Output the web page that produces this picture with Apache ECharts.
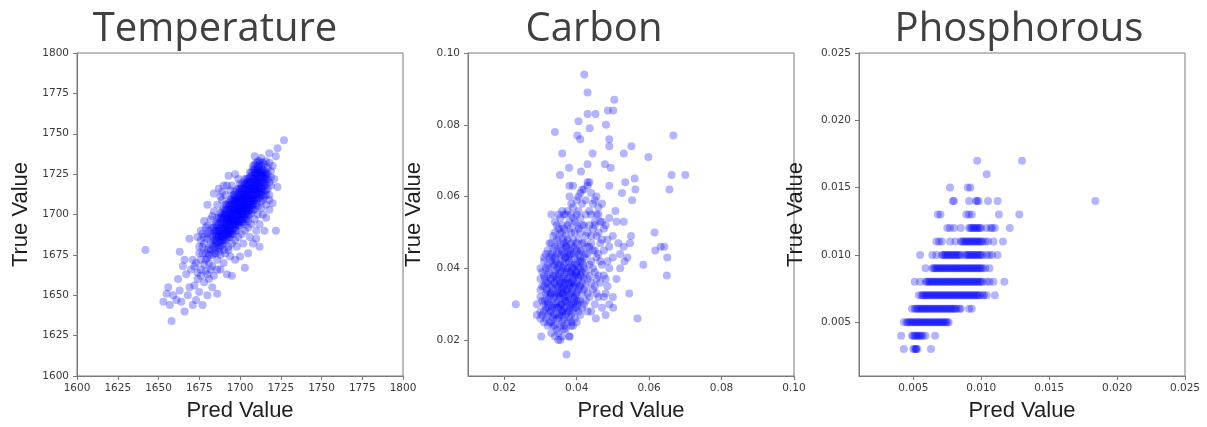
<!DOCTYPE html>
<html>
<head>
<meta charset="utf-8">
<script src="https://cdn.jsdelivr.net/npm/echarts@6/dist/echarts.min.js"></script>
<style>
html,body{margin:0;padding:0;background:#fff;}
#chart{width:1207px;height:427px;}
</style>
</head>
<body>
<div id="chart"></div>
<script>
// ---------------- DATA ----------------
var panelTitles = ['Temperature', 'Carbon', 'Phosphorous'];
var xAxisTitle = 'Pred Value';
var yAxisTitle = 'True Value';

var tempTicks = [1600, 1625, 1650, 1675, 1700, 1725, 1750, 1775, 1800];
var carbonTicks = [0.02, 0.04, 0.06, 0.08, 0.10];
var phosTicks = [0.005, 0.010, 0.015, 0.020, 0.025];

// Temperature: [pred, true]
var tempPoints = [
[1642,1678],[1658,1634],[1655,1651],[1653,1646],[1656,1655],[1657,1644],[1659,1650],[1661,1647],[1664,1646],[1663,1653],
[1666,1640],[1668,1650],[1669,1655],[1671,1644],[1673,1647],[1672,1656],[1675,1652],[1677,1644],[1678,1658],[1680,1650],
[1681,1660],[1683,1655],[1686,1651],[1676,1662],[1667,1663],[1662,1660],[1665,1668],[1663,1677],[1666,1672],[1669,1685],
[1670,1666],[1673,1670],[1674,1664],[1679,1665],[1684,1662],[1674,1686],[1675,1680],[1678,1696],[1680,1706],[1681,1690],
[1684,1713],[1687,1716],[1686,1695],[1689,1709],[1690,1718],[1693,1724],[1697,1725],[1699,1722],[1696,1712],[1700,1716],
[1692,1663],[1695,1662],[1688,1666],[1690,1678],[1693,1680],[1697,1672],[1700,1674],[1703,1667],[1705,1676],[1708,1682],
[1710,1685],[1712,1680],[1715,1690],[1722,1690],[1716,1698],[1718,1703],[1720,1707],[1723,1717],[1721,1722],[1719,1727],
[1722,1736],[1723,1741],[1727,1746],[1713,1735],[1716,1733],[1709,1736],[1720,1730],[1718,1738],
[1680,1678],[1682,1683],[1684,1680],[1685,1687],[1683,1675],[1686,1672],[1688,1683],[1687,1690],[1689,1686],[1690,1692],
[1691,1684],[1692,1689],[1693,1695],[1694,1690],[1695,1698],[1696,1693],[1697,1700],[1698,1696],[1699,1703],[1700,1698],
[1701,1705],[1702,1700],[1703,1707],[1704,1702],[1705,1710],[1706,1705],[1707,1712],[1708,1708],[1709,1715],[1710,1711],
[1711,1718],[1712,1714],[1713,1720],[1714,1716],[1715,1723],[1710,1725],[1708,1728],[1711,1730],[1709,1722],[1706,1720],
[1704,1717],[1702,1713],[1700,1710],[1698,1707],[1696,1704],[1694,1701],[1692,1698],[1690,1700],[1688,1695],[1686,1690],
[1684,1692],[1682,1688],[1680,1685],[1678,1682],[1677,1676],[1679,1672],[1681,1670],[1683,1668],[1685,1676],[1687,1679],
[1689,1681],[1691,1676],[1693,1686],[1695,1688],[1697,1690],[1699,1693],[1701,1695],[1703,1697],[1705,1699],[1707,1701],
[1709,1703],[1711,1705],[1713,1708],[1715,1711],[1716,1715],[1714,1720],[1712,1724],[1716,1726],[1714,1728],[1712,1731],
[1707,1724],[1705,1722],[1703,1719],[1701,1716],[1699,1713],[1697,1709],[1695,1706],[1693,1703],[1691,1700],[1689,1697],
[1687,1694],[1685,1682],[1683,1686],[1681,1679],[1688,1675],[1690,1688],[1692,1693],[1694,1696],[1696,1699],[1698,1702],
[1700,1705],[1702,1708],[1704,1711],[1706,1714],[1708,1717],[1710,1720],[1712,1717],[1714,1712],[1716,1719],[1717,1722],
[1718,1712],[1713,1704],[1711,1700],[1709,1697],[1707,1694],[1705,1692],[1703,1690],[1701,1688],[1699,1686],[1697,1684],
[1695,1682],[1693,1678],[1706,1708],[1704,1706],[1702,1704],[1700,1702],[1698,1699],[1696,1697],[1694,1694],[1692,1691],
[1690,1686],[1708,1712],[1710,1716],[1712,1721],[1709,1726],[1707,1716],[1705,1714],[1703,1712],[1701,1710],[1699,1707],
[1697,1704],[1695,1701],[1693,1698],[1691,1695],[1689,1691],[1687,1686],[1685,1684],[1683,1681],[1686,1698],[1688,1701],
[1691,1706],[1694,1709],[1697,1714],[1700,1719],[1703,1722],[1706,1726],[1709,1731],[1711,1733],[1713,1727],[1715,1731],
[1717,1729],[1684,1702],[1682,1697],[1679,1692],[1686,1706],[1688,1711],[1691,1712],[1694,1715],[1712,1694],[1714,1700],
[1716,1706],[1718,1709],[1710,1690],[1706,1686],[1702,1682],[1698,1680],[1694,1674],[1690,1670],[1686,1666],
[1684,1676],[1684,1684],[1684,1690],[1685,1679],[1685,1688],[1685,1694],[1686,1681],[1686,1686],[1686,1693],
[1687,1677],[1687,1683],[1687,1690],[1687,1698],[1688,1680],[1688,1688],[1688,1692],[1688,1698],
[1689,1684],[1689,1690],[1689,1694],[1689,1702],[1690,1682],[1690,1690],[1690,1696],[1690,1704],
[1691,1688],[1691,1693],[1691,1698],[1691,1703],[1692,1685],[1692,1690],[1692,1695],[1692,1700],[1692,1706],
[1693,1688],[1693,1692],[1693,1696],[1693,1701],[1693,1707],[1694,1686],[1694,1692],[1694,1698],[1694,1703],[1694,1708],
[1695,1690],[1695,1695],[1695,1700],[1695,1704],[1695,1710],[1696,1688],[1696,1694],[1696,1701],[1696,1707],[1696,1712],
[1697,1692],[1697,1697],[1697,1702],[1697,1708],[1697,1711],[1698,1690],[1698,1694],[1698,1700],[1698,1705],[1698,1710],[1698,1715],
[1699,1696],[1699,1700],[1699,1704],[1699,1709],[1699,1716],[1700,1693],[1700,1700],[1700,1707],[1700,1712],[1700,1714],
[1701,1697],[1701,1702],[1701,1706],[1701,1712],[1701,1718],[1702,1695],[1702,1702],[1702,1706],[1702,1710],[1702,1716],[1702,1720],
[1703,1700],[1703,1704],[1703,1709],[1703,1714],[1703,1716],[1704,1697],[1704,1704],[1704,1708],[1704,1713],[1704,1719],[1704,1722],
[1705,1702],[1705,1706],[1705,1712],[1705,1716],[1705,1720],[1706,1700],[1706,1710],[1706,1716],[1706,1718],[1706,1723],
[1707,1704],[1707,1708],[1707,1714],[1707,1720],[1707,1726],[1708,1703],[1708,1710],[1708,1714],[1708,1720],[1708,1724],[1708,1730],
[1709,1707],[1709,1712],[1709,1718],[1709,1720],[1709,1728],[1710,1706],[1710,1714],[1710,1718],[1710,1723],[1710,1728],[1710,1732],
[1711,1710],[1711,1715],[1711,1722],[1711,1726],[1712,1710],[1712,1719],[1712,1726],[1712,1728],[1712,1733],
[1713,1712],[1713,1716],[1713,1723],[1713,1730],[1714,1709],[1714,1718],[1714,1724],[1714,1732],
[1715,1715],[1715,1720],[1715,1727],[1716,1712],[1716,1722],[1716,1724],[1717,1716],[1717,1725],[1718,1720],[1718,1732],
[1719,1718],[1719,1723],[1680,1693],[1677,1688],[1676,1684],[1683,1699],[1689,1714],[1692,1718],[1695,1718],
[1689,1687],[1689,1699],[1690,1694],[1690,1698],[1691,1691],[1691,1701],[1692,1697],[1692,1703],[1693,1690],[1693,1705],
[1694,1699],[1694,1706],[1695,1693],[1695,1697],[1695,1703],[1696,1696],[1696,1703],[1696,1709],[1697,1695],[1697,1706],
[1698,1697],[1698,1703],[1698,1708],[1699,1698],[1699,1702],[1699,1711],[1700,1696],[1700,1704],[1700,1709],[1701,1700],
[1701,1708],[1701,1714],[1702,1698],[1702,1711],[1703,1702],[1703,1706],[1703,1711],[1703,1718],[1704,1700],[1704,1709],
[1704,1715],[1705,1704],[1705,1708],[1705,1718],[1706,1703],[1706,1712],[1706,1721],[1707,1706],[1707,1710],[1707,1718],
[1708,1706],[1708,1716],[1708,1722],[1709,1710],[1709,1716],[1709,1724],[1710,1709],[1710,1721],[1710,1726],[1711,1713],
[1711,1720],[1711,1728],[1712,1716],[1712,1723],[1713,1714],[1713,1725],[1714,1722],[1714,1726],[1715,1718],[1715,1725],
[1687,1688],[1686,1684],[1685,1690],[1688,1686],[1690,1684],[1692,1687],[1694,1688],[1696,1691],[1697,1694],[1699,1695],
[1701,1699],[1702,1703],[1704,1704],[1706,1707],[1708,1709],[1710,1712],[1712,1713],[1705,1696],[1703,1694],
[1676,1672],[1678,1669],[1679,1676],[1680,1673],[1681,1675],[1682,1678],[1677,1680],[1675,1676],[1672,1668],[1674,1660],
[1676,1666],[1680,1663],[1682,1666],[1671,1672],[1678,1686],[1680,1688],[1676,1690],[1683,1692]
];

// Carbon: [pred, true]
var carbonPoints = [
[0.031,0.030],[0.032,0.033],[0.033,0.028],[0.034,0.036],[0.035,0.031],[0.036,0.039],[0.037,0.034],[0.038,0.042],[0.039,0.037],[0.040,0.045],
[0.041,0.040],[0.032,0.038],[0.033,0.042],[0.034,0.029],[0.035,0.044],[0.036,0.027],[0.037,0.046],[0.038,0.030],[0.039,0.048],[0.040,0.033],
[0.031,0.035],[0.032,0.027],[0.033,0.037],[0.034,0.041],[0.035,0.035],[0.036,0.033],[0.037,0.040],[0.038,0.036],[0.039,0.032],[0.040,0.038],
[0.041,0.043],[0.030,0.028],[0.030,0.032],[0.030,0.026],[0.031,0.025],[0.032,0.024],[0.033,0.025],[0.034,0.024],[0.035,0.026],[0.036,0.025],
[0.037,0.027],[0.038,0.026],[0.039,0.028],[0.040,0.029],[0.041,0.031],[0.042,0.034],[0.043,0.037],[0.042,0.040],[0.043,0.044],[0.042,0.047],
[0.041,0.050],[0.040,0.052],[0.039,0.054],[0.038,0.051],[0.037,0.049],[0.036,0.052],[0.035,0.048],[0.034,0.046],[0.033,0.047],[0.034,0.050],
[0.036,0.045],[0.035,0.040],[0.034,0.033],[0.033,0.031],[0.032,0.029],[0.036,0.030],[0.037,0.031],[0.038,0.033],[0.039,0.035],[0.040,0.036],
[0.036,0.036],[0.037,0.037],[0.038,0.039],[0.039,0.040],[0.040,0.041],[0.036,0.042],[0.037,0.043],[0.035,0.038],[0.034,0.039],[0.033,0.035],
[0.032,0.036],[0.031,0.038],[0.030,0.037],[0.029,0.030],[0.029,0.027],[0.030,0.034],[0.031,0.042],[0.032,0.041],[0.033,0.044],[0.035,0.029],
[0.034,0.027],[0.036,0.028],[0.038,0.028],[0.039,0.030],[0.040,0.031],[0.041,0.035],[0.042,0.037],[0.041,0.038],[0.038,0.044],[0.039,0.046],
[0.040,0.047],[0.041,0.045],[0.037,0.047],[0.036,0.050],[0.038,0.053],[0.037,0.055],[0.036,0.056],[0.035,0.055],[0.039,0.057],[0.040,0.055],
[0.041,0.054],[0.042,0.052],[0.043,0.050],[0.044,0.047],[0.045,0.045],[0.044,0.042],[0.045,0.039],[0.044,0.036],[0.043,0.033],[0.042,0.030],
[0.043,0.028],[0.041,0.027],[0.040,0.025],[0.039,0.024],[0.037,0.023],[0.035,0.022],[0.034,0.021],[0.036,0.021],[0.033,0.022],[0.038,0.021],
[0.031,0.028],[0.032,0.031],[0.033,0.033],[0.035,0.033],[0.036,0.034],[0.037,0.032],[0.038,0.035],[0.039,0.038],[0.040,0.039],[0.041,0.042],
[0.042,0.043],[0.043,0.046],[0.044,0.049],[0.045,0.052],[0.046,0.055],[0.047,0.053],[0.046,0.050],[0.047,0.048],[0.046,0.044],[0.047,0.041],
[0.046,0.038],[0.045,0.035],[0.046,0.032],[0.045,0.030],[0.044,0.028],[0.047,0.029],[0.048,0.033],[0.048,0.037],[0.049,0.040],[0.050,0.043],
[0.049,0.046],[0.050,0.049],[0.048,0.052],[0.049,0.054],[0.047,0.058],[0.045,0.059],[0.044,0.061],[0.043,0.063],[0.042,0.062],[0.041,0.061],
[0.043,0.064],[0.040,0.059],[0.038,0.060],[0.039,0.063],[0.046,0.057],[0.045,0.053],[0.044,0.055],[0.035,0.051],[0.034,0.053],[0.033,0.055],
[0.034,0.043],[0.032,0.045],[0.031,0.043],[0.030,0.040],
[0.0305,0.027],[0.0305,0.031],[0.0305,0.035],[0.0305,0.039],
[0.0315,0.026],[0.0315,0.029],[0.0315,0.033],[0.0315,0.036],[0.0315,0.040],[0.0315,0.044],
[0.0325,0.025],[0.0325,0.028],[0.0325,0.032],[0.0325,0.035],[0.0325,0.039],[0.0325,0.043],[0.0325,0.047],
[0.0335,0.024],[0.0335,0.027],[0.0335,0.030],[0.0335,0.034],[0.0335,0.038],[0.0335,0.041],[0.0335,0.045],[0.0335,0.049],
[0.0345,0.026],[0.0345,0.029],[0.0345,0.032],[0.0345,0.035],[0.0345,0.037],[0.0345,0.040],[0.0345,0.044],[0.0345,0.048],[0.0345,0.052],
[0.0355,0.024],[0.0355,0.028],[0.0355,0.030],[0.0355,0.033],[0.0355,0.036],[0.0355,0.039],[0.0355,0.042],[0.0355,0.046],[0.0355,0.050],[0.0355,0.054],
[0.0365,0.023],[0.0365,0.026],[0.0365,0.029],[0.0365,0.032],[0.0365,0.035],[0.0365,0.038],[0.0365,0.041],[0.0365,0.044],[0.0365,0.047],[0.0365,0.051],[0.0365,0.055],
[0.0375,0.025],[0.0375,0.028],[0.0375,0.031],[0.0375,0.034],[0.0375,0.037],[0.0375,0.040],[0.0375,0.043],[0.0375,0.045],[0.0375,0.048],[0.0375,0.052],[0.0375,0.056],
[0.0385,0.024],[0.0385,0.027],[0.0385,0.030],[0.0385,0.033],[0.0385,0.036],[0.0385,0.039],[0.0385,0.041],[0.0385,0.044],[0.0385,0.047],[0.0385,0.050],[0.0385,0.055],[0.0385,0.058],
[0.0395,0.026],[0.0395,0.029],[0.0395,0.032],[0.0395,0.035],[0.0395,0.038],[0.0395,0.041],[0.0395,0.043],[0.0395,0.046],[0.0395,0.050],[0.0395,0.053],
[0.0405,0.028],[0.0405,0.031],[0.0405,0.034],[0.0405,0.037],[0.0405,0.040],[0.0405,0.044],[0.0405,0.048],[0.0405,0.051],[0.0405,0.056],[0.0405,0.060],
[0.0415,0.029],[0.0415,0.033],[0.0415,0.036],[0.0415,0.039],[0.0415,0.042],[0.0415,0.047],[0.0415,0.052],[0.0415,0.058],[0.0415,0.062],
[0.0425,0.031],[0.0425,0.035],[0.0425,0.039],[0.0425,0.044],[0.0425,0.049],[0.0425,0.055],[0.0425,0.059],
[0.0435,0.032],[0.0435,0.038],[0.0435,0.041],[0.0435,0.046],[0.0435,0.052],[0.0435,0.056],[0.0435,0.064],
[0.0445,0.034],[0.0445,0.040],[0.0445,0.045],[0.0445,0.051],[0.0445,0.058],
[0.0455,0.033],[0.0455,0.037],[0.0455,0.043],[0.0455,0.049],[0.0455,0.055],[0.0455,0.060],
[0.0465,0.036],[0.0465,0.042],[0.0465,0.047],[0.0465,0.053],[0.0475,0.032],[0.0475,0.038],[0.0475,0.045],[0.0475,0.051],
[0.0485,0.035],[0.0485,0.042],[0.0485,0.048],
[0.0312,0.031],[0.0312,0.037],[0.0318,0.034],[0.0322,0.030],[0.0322,0.040],[0.0328,0.033],[0.0328,0.037],[0.0332,0.029],[0.0332,0.043],[0.0338,0.032],
[0.0338,0.036],[0.0342,0.030],[0.0342,0.038],[0.0342,0.042],[0.0348,0.034],[0.0348,0.046],[0.0352,0.027],[0.0352,0.032],[0.0352,0.037],[0.0352,0.041],
[0.0358,0.030],[0.0358,0.035],[0.0358,0.044],[0.0362,0.028],[0.0362,0.033],[0.0362,0.037],[0.0362,0.040],[0.0362,0.048],[0.0368,0.031],[0.0368,0.036],
[0.0368,0.043],[0.0372,0.029],[0.0372,0.034],[0.0372,0.039],[0.0372,0.046],[0.0378,0.032],[0.0378,0.036],[0.0378,0.042],[0.0382,0.029],[0.0382,0.038],
[0.0382,0.045],[0.0388,0.034],[0.0388,0.040],[0.0392,0.031],[0.0392,0.036],[0.0392,0.044],[0.0398,0.033],[0.0398,0.039],[0.0402,0.030],[0.0402,0.042],
[0.0408,0.035],[0.0412,0.038],[0.0412,0.045],[0.0418,0.041],[0.0335,0.026],[0.0345,0.023],[0.0365,0.024],[0.0385,0.025],
[0.051,0.037],[0.052,0.040],[0.050,0.032],[0.049,0.030],[0.0515,0.047],[0.052,0.044],[0.048,0.027],[0.051,0.053],[0.053,0.046],[0.055,0.049],
[0.0232,0.030],[0.0372,0.016],[0.0302,0.021],[0.0349,0.020],[0.0355,0.020],[0.0380,0.021],[0.0568,0.026],[0.0453,0.026],[0.0501,0.029],[0.0545,0.033],
[0.0649,0.038],[0.0650,0.043],[0.0584,0.041],[0.0617,0.045],[0.0632,0.046],[0.0642,0.046],[0.0615,0.050],[0.0547,0.047],[0.0532,0.042],[0.0540,0.043],
[0.0507,0.056],[0.0530,0.053],[0.0421,0.094],[0.0430,0.089],[0.0504,0.087],[0.0430,0.083],[0.0452,0.083],[0.0486,0.084],[0.0501,0.084],[0.0405,0.081],
[0.0436,0.079],[0.0481,0.080],[0.0340,0.078],[0.0402,0.077],[0.0410,0.076],[0.0490,0.076],[0.0490,0.074],[0.0667,0.077],[0.0551,0.074],[0.0360,0.072],
[0.0444,0.072],[0.0530,0.072],[0.0598,0.071],[0.0379,0.068],[0.0430,0.069],[0.0478,0.069],[0.0494,0.068],[0.0354,0.066],[0.0412,0.067],[0.0662,0.066],
[0.0700,0.066],[0.0560,0.065],[0.0534,0.064],[0.0490,0.063],[0.0656,0.062],[0.0380,0.063],[0.0562,0.062],[0.0525,0.061],[0.0553,0.059]
];

// Phosphorous: true value levels with the predicted values found on each level
var phosLevels = [0.017, 0.016, 0.015, 0.014, 0.013, 0.012, 0.011, 0.010, 0.009, 0.008, 0.007, 0.006, 0.005, 0.004, 0.003];
var phosPredByLevel = [
[0.0097, 0.0130],
[0.0104],
[0.0077, 0.0090, 0.0092],
[0.0079, 0.0080, 0.0091, 0.0096, 0.0097, 0.0098, 0.0105, 0.0112, 0.0184],
[0.0068, 0.0070, 0.0089, 0.0091, 0.0093, 0.0113, 0.0128],
[0.0075, 0.0077, 0.0080, 0.0085, 0.0091, 0.0092, 0.0093, 0.0094, 0.0095, 0.0096, 0.0097, 0.0098, 0.0099, 0.0100, 0.0104, 0.0107, 0.0108, 0.0110, 0.0121],
[0.0067, 0.0069, 0.0071, 0.0077, 0.0081, 0.0085, 0.0086, 0.0087, 0.0088, 0.0089, 0.0090, 0.0091, 0.0092, 0.0093, 0.0094, 0.0095, 0.0096, 0.0097, 0.0098, 0.0099, 0.0100, 0.0101, 0.0103, 0.0105, 0.0109, 0.0116],
[0.0055, 0.0064, 0.0067, 0.0071, 0.0072, 0.0073, 0.0074, 0.0075, 0.0076, 0.0077, 0.0078, 0.0079, 0.0080, 0.0081, 0.0082, 0.0083, 0.0084, 0.0085, 0.0088, 0.0089, 0.0090, 0.0091, 0.0092, 0.0093, 0.0094, 0.0095, 0.0096, 0.0097, 0.0098, 0.0099, 0.0100, 0.0101, 0.0104, 0.0106, 0.0108, 0.0112],
[0.0059, 0.0064, 0.0065, 0.0066, 0.0067, 0.0068, 0.0069, 0.0070, 0.0071, 0.0072, 0.0073, 0.0074, 0.0075, 0.0076, 0.0077, 0.0078, 0.0079, 0.0080, 0.0081, 0.0082, 0.0083, 0.0084, 0.0085, 0.0086, 0.0087, 0.0088, 0.0089, 0.0090, 0.0091, 0.0092, 0.0093, 0.0094, 0.0095, 0.0096, 0.0097, 0.0098, 0.0099, 0.0100, 0.0101, 0.0103, 0.0106],
[0.0051, 0.0055, 0.0059, 0.0060, 0.0061, 0.0062, 0.0063, 0.0064, 0.0065, 0.0066, 0.0067, 0.0068, 0.0069, 0.0070, 0.0071, 0.0072, 0.0073, 0.0074, 0.0075, 0.0076, 0.0077, 0.0078, 0.0079, 0.0080, 0.0081, 0.0082, 0.0083, 0.0084, 0.0085, 0.0086, 0.0087, 0.0088, 0.0089, 0.0090, 0.0091, 0.0092, 0.0093, 0.0094, 0.0095, 0.0096, 0.0097, 0.0098, 0.0099, 0.0100, 0.0101, 0.0104, 0.0106, 0.0109, 0.0117],
[0.0054, 0.0056, 0.0057, 0.0058, 0.0059, 0.0060, 0.0061, 0.0062, 0.0063, 0.0064, 0.0065, 0.0066, 0.0067, 0.0068, 0.0069, 0.0070, 0.0071, 0.0072, 0.0073, 0.0074, 0.0075, 0.0076, 0.0077, 0.0078, 0.0079, 0.0080, 0.0081, 0.0082, 0.0083, 0.0084, 0.0085, 0.0086, 0.0087, 0.0088, 0.0089, 0.0090, 0.0091, 0.0092, 0.0093, 0.0094, 0.0095, 0.0096, 0.0097, 0.0098, 0.0099, 0.0101, 0.0102, 0.0104, 0.0110],
[0.0049, 0.0051, 0.0052, 0.0053, 0.0054, 0.0055, 0.0056, 0.0057, 0.0058, 0.0059, 0.0060, 0.0061, 0.0062, 0.0063, 0.0064, 0.0065, 0.0066, 0.0067, 0.0068, 0.0069, 0.0070, 0.0071, 0.0072, 0.0073, 0.0074, 0.0075, 0.0076, 0.0077, 0.0078, 0.0079, 0.0080, 0.0081, 0.0082, 0.0084, 0.0085, 0.0091, 0.0093],
[0.0043, 0.0045, 0.0046, 0.0047, 0.0048, 0.0049, 0.0050, 0.0051, 0.0052, 0.0053, 0.0054, 0.0055, 0.0056, 0.0057, 0.0058, 0.0059, 0.0060, 0.0061, 0.0062, 0.0063, 0.0064, 0.0065, 0.0066, 0.0067, 0.0068, 0.0069, 0.0070, 0.0071, 0.0072, 0.0073, 0.0074, 0.0075, 0.0076],
[0.0041, 0.0049, 0.0050, 0.0051, 0.0052, 0.0053, 0.0054, 0.0055, 0.0056, 0.0057, 0.0059, 0.0066],
[0.0043, 0.0050, 0.0051, 0.0052, 0.0052, 0.0053, 0.0063]
];

// ---------------- CHART ----------------
var phosPoints = [];
phosLevels.forEach(function (lvl, i) {
  phosPredByLevel[i].forEach(function (p) { phosPoints.push([p, lvl]); });
});

var tickFont = { fontFamily: 'DejaVu Sans', fontSize: 10.5, color: '#3a3a3a' };
var nameFont = { fontFamily: 'Liberation Sans', fontSize: 22, color: '#1e1e1e' };
var lineCol = '#7a7a7a';

var grids = [
  { left: 77, top: 53, width: 326, height: 328 },
  { left: 468, top: 53, width: 326, height: 327 },
  { left: 859, top: 53, width: 326, height: 327 }
];
grids.forEach(function (g) { g.show = true; g.borderColor = lineCol; g.borderWidth = 1; g.backgroundColor = 'transparent'; });

function axisBase(idx, isX, min, max, ticks, digits, nameGap) {
  var a = {
    type: 'value', gridIndex: idx, min: min, max: max,
    name: isX ? xAxisTitle : yAxisTitle,
    nameLocation: 'middle', nameGap: nameGap,
    nameTextStyle: nameFont,
    splitLine: { show: false },
    axisLine: { show: true, onZero: false, lineStyle: { color: lineCol, width: 1 } },
    axisTick: { show: true, inside: false, length: 4, lineStyle: { color: lineCol } },
    axisLabel: Object.assign({ margin: isX ? 7 : 8, showMinLabel: true, showMaxLabel: true,
      formatter: function (v) { return digits ? Number(v).toFixed(digits) : String(v); } }, tickFont)
  };
  if (ticks.custom) {
    a.axisTick.customValues = ticks.values;
    a.axisLabel.customValues = ticks.values;
  } else {
    a.interval = ticks.interval;
  }
  return a;
}

var xAxes = [
  axisBase(0, true, 1600, 1800, { interval: 25 }, 0, 24),
  axisBase(1, true, 0.01, 0.10, { custom: true, values: carbonTicks }, 2, 24),
  axisBase(2, true, 0.001, 0.025, { custom: true, values: phosTicks }, 3, 24)
];
var yAxes = [
  axisBase(0, false, 1600, 1800, { interval: 25 }, 0, 45),
  axisBase(1, false, 0.01, 0.10, { custom: true, values: carbonTicks }, 2, 43),
  axisBase(2, false, 0.001, 0.025, { custom: true, values: phosTicks }, 3, 52)
];

function scatter(idx, pts) {
  return {
    type: 'scatter', xAxisIndex: idx, yAxisIndex: idx, data: pts,
    symbol: 'circle', symbolSize: 8, silent: true, large: false,
    itemStyle: { color: 'rgba(0,0,255,0.37)' }
  };
}

var titleX = [215, 594, 1019];
var graphics = panelTitles.map(function (t, i) {
  return {
    type: 'text', x: titleX[i], y: 30, silent: true,
    style: { text: t, fill: '#404040', font: '40px "Open Sans"', align: 'center', verticalAlign: 'middle' }
  };
});

var chart = echarts.init(document.getElementById('chart'), null, { renderer: 'canvas' });
chart.setOption({
  animation: false,
  backgroundColor: '#fff',
  grid: grids,
  xAxis: xAxes,
  yAxis: yAxes,
  series: [scatter(0, tempPoints), scatter(1, carbonPoints), scatter(2, phosPoints)],
  graphic: graphics
});
</script>
</body>
</html>
